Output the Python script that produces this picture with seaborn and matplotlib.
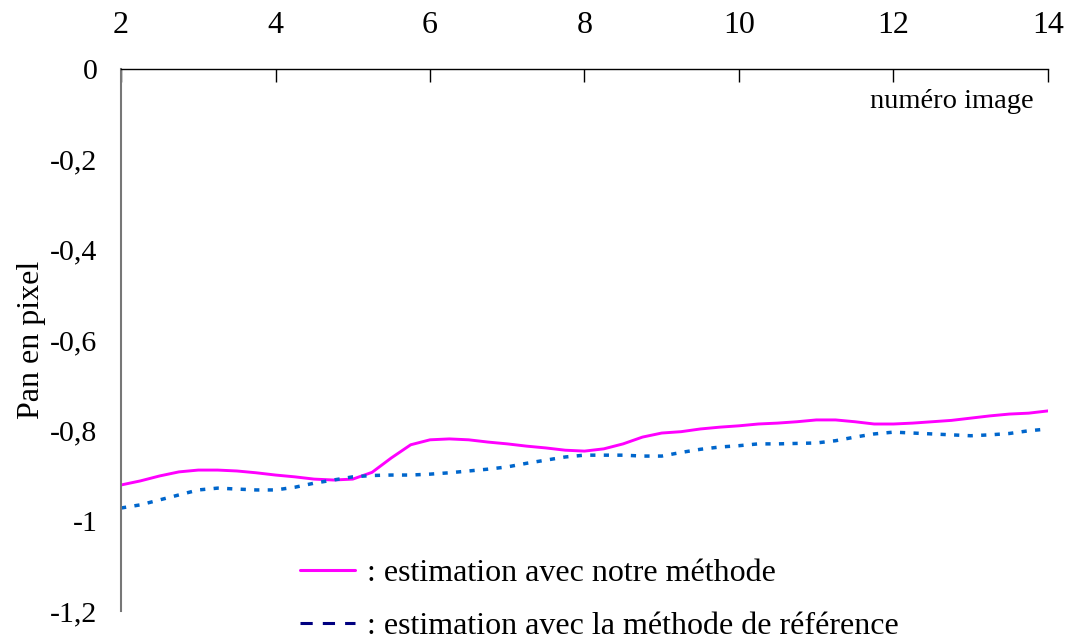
import matplotlib
matplotlib.use("Agg")
import matplotlib.pyplot as plt
from matplotlib.lines import Line2D
import seaborn as sns
import pandas as pd

# Frame numbers and horizontal pan estimates (pixels)
frames = [2.0, 2.25, 2.5, 2.75, 3.0, 3.25, 3.5, 3.75, 4.0, 4.25, 4.5, 4.75,
          5.0, 5.25, 5.5, 5.75, 6.0, 6.25, 6.5, 6.75, 7.0, 7.25, 7.5, 7.75,
          8.0, 8.25, 8.5, 8.75, 9.0, 9.25, 9.5, 9.75, 10.0, 10.25, 10.5, 10.75,
          11.0, 11.25, 11.5, 11.75, 12.0, 12.25, 12.5, 12.75, 13.0, 13.25, 13.5,
          13.75, 14.0]
pan_ours = [-0.921, -0.912, -0.901, -0.892, -0.888, -0.888, -0.890, -0.894,
            -0.899, -0.903, -0.908, -0.910, -0.908, -0.893, -0.861, -0.832,
            -0.821, -0.819, -0.821, -0.826, -0.830, -0.835, -0.839, -0.844,
            -0.846, -0.841, -0.830, -0.815, -0.806, -0.803, -0.797, -0.793,
            -0.790, -0.786, -0.784, -0.781, -0.777, -0.777, -0.781, -0.786,
            -0.786, -0.784, -0.781, -0.778, -0.773, -0.768, -0.764, -0.762,
            -0.757]
pan_ref = [-0.972, -0.965, -0.954, -0.943, -0.932, -0.928, -0.930, -0.932,
           -0.932, -0.926, -0.917, -0.910, -0.903, -0.900, -0.899, -0.899,
           -0.897, -0.894, -0.890, -0.886, -0.881, -0.873, -0.866, -0.859,
           -0.855, -0.855, -0.855, -0.857, -0.857, -0.849, -0.842, -0.837,
           -0.834, -0.830, -0.830, -0.829, -0.828, -0.823, -0.815, -0.808,
           -0.804, -0.806, -0.808, -0.810, -0.812, -0.810, -0.807, -0.801,
           -0.797]

x_ticks = [2, 4, 6, 8, 10, 12, 14]
y_ticks = [0, -0.2, -0.4, -0.6, -0.8, -1.0, -1.2]
y_tick_labels = ["0", "-0,2", "-0,4", "-0,6", "-0,8", "-1", "-1,2"]
legend_labels = [": estimation avec notre méthode",
                 ": estimation avec la méthode de référence"]

sns.set_style("white")
plt.rcParams["font.family"] = ["Liberation Serif", "DejaVu Serif"]
plt.rcParams["text.color"] = "black"
plt.rcParams["axes.labelcolor"] = "black"
plt.rcParams["xtick.color"] = "black"
plt.rcParams["ytick.color"] = "black"

df = pd.DataFrame({"frame": frames, "ours": pan_ours, "ref": pan_ref})

fig = plt.figure(figsize=(10.71, 6.41), dpi=100)
ax = fig.add_axes([0.113, 0.0468, 0.8655, 0.8456])

sns.lineplot(data=df, x="frame", y="ours", ax=ax, color="#ff00ff",
             linewidth=2.1)
sns.lineplot(data=df, x="frame", y="ref", ax=ax, color="#0066cc",
             linewidth=2.5, linestyle=(0, (1.5, 2.4)))

ax.set_xlim(2, 14)
ax.set_ylim(-1.2, 0)
ax.xaxis.tick_top()
ax.set_xticks(x_ticks)
ax.set_xticklabels([str(t) for t in x_ticks])
ax.set_yticks(y_ticks)
ax.set_yticklabels(y_tick_labels)
ax.tick_params(axis="x", direction="in", length=9, width=1.0, color="black",
               labelsize=23, labelcolor="black", pad=21)
ax.tick_params(axis="y", direction="out", length=10, width=1.3,
               color="#444444", labelsize=21.5, labelcolor="black", pad=7)

for side in ("right", "bottom"):
    ax.spines[side].set_visible(False)
ax.spines["top"].set_color("black")
ax.spines["top"].set_linewidth(1.0)
ax.spines["left"].set_color("#777777")
ax.spines["left"].set_linewidth(1.5)

ax.set_xlabel("")
ax.set_ylabel("Pan en pixel", fontsize=23, labelpad=3, color="black")
ax.text(0.985, 0.94, "numéro image", transform=ax.transAxes, ha="right",
        va="center", fontsize=20.5, color="black")

handles = [Line2D([], [], color="#ff00ff", linewidth=2.2),
           Line2D([], [], color="#000080", linewidth=2.2,
                  linestyle=(0, (4.0, 3.3)))]
leg = ax.legend(handles, legend_labels, loc="upper left",
                bbox_to_anchor=(300 / 1071, 1 - 559 / 641),
                bbox_transform=fig.transFigure, frameon=False, fontsize=23,
                handlelength=1.72, handletextpad=0.37, labelspacing=0.72,
                borderpad=0, borderaxespad=0)
for t in leg.get_texts():
    t.set_color("black")

fig.savefig("out.png", dpi=100, facecolor="white")
